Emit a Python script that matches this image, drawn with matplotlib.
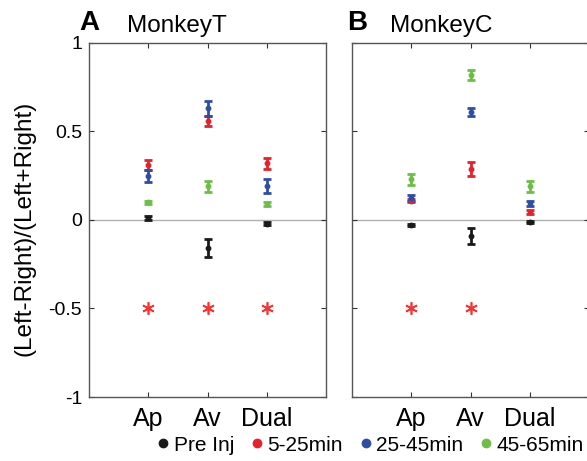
import matplotlib
matplotlib.use("Agg")
import matplotlib.pyplot as plt
from matplotlib.lines import Line2D
import numpy as np

plt.rcParams['font.family'] = ['Liberation Sans', 'DejaVu Sans']

categories = ["Ap", "Av", "Dual"]
series = ["Pre Inj", "5-25min", "25-45min", "45-65min"]
colors = ["#1a1a1a", "#e8202a", "#2c4ea6", "#6cbf45"]

# Monkey T
t_mean = {
    "Pre Inj":  [0.01, -0.16, -0.02],
    "5-25min":  [0.31, 0.56, 0.32],
    "25-45min": [0.25, 0.63, 0.19],
    "45-65min": [0.10, 0.19, 0.09],
}
t_err = {
    "Pre Inj":  [0.01, 0.05, 0.01],
    "5-25min":  [0.03, 0.03, 0.03],
    "25-45min": [0.035, 0.04, 0.04],
    "45-65min": [0.01, 0.03, 0.01],
}
# Monkey C
c_mean = {
    "Pre Inj":  [-0.03, -0.09, -0.01],
    "5-25min":  [0.11, 0.29, 0.045],
    "25-45min": [0.125, 0.61, 0.095],
    "45-65min": [0.23, 0.82, 0.19],
}
c_err = {
    "Pre Inj":  [0.005, 0.045, 0.005],
    "5-25min":  [0.01, 0.04, 0.01],
    "25-45min": [0.015, 0.02, 0.015],
    "45-65min": [0.03, 0.03, 0.03],
}
sig_T = [1, 2, 3]
sig_C = [1, 2]
sig_level = -0.5

fig = plt.figure(figsize=(5.87, 4.61), dpi=100)
axA = fig.add_axes([89/587, 64/461, 237/587, 354/461])
axB = fig.add_axes([352/587, 64/461, 237/587, 354/461])

xpos = np.arange(1, len(categories) + 1)

def draw(ax, means, errs, sig, title, letter, letter_x, ylabels):
    ax.axhline(0, color="#b0b0b0", lw=1.0, zorder=0)
    for s, col in zip(series, colors):
        ax.errorbar(xpos, means[s], yerr=errs[s], fmt='o', color=col,
                    ms=3.2, elinewidth=2.0, capsize=2.8, capthick=2.0, zorder=3)
    ax.plot(sig, [sig_level] * len(sig), linestyle='none', marker=(6, 2, 0),
            ms=9, mew=1.2, color="#ff3030")
    ax.set_xlim(0, 4)
    ax.set_ylim(-1, 1)
    ax.set_xticks(xpos)
    ax.set_xticklabels(categories, fontsize=18)
    ax.set_yticks([-1, -0.5, 0, 0.5, 1])
    if ylabels:
        ax.set_yticklabels(["-1", "-0.5", "0", "0.5", "1"], fontsize=14)
    else:
        ax.set_yticklabels([])
    ax.tick_params(direction='in', length=3.5, top=True, right=True,
                   width=0.8, color="#333333", pad=5)
    ax.tick_params(axis='x', pad=7)
    for sp in ax.spines.values():
        sp.set_color("#555555")
        sp.set_linewidth(1.0)
    ax.text(0.16, 1.031, title, transform=ax.transAxes, fontsize=17.5,
            ha='left', va='baseline')
    ax.text(letter_x, 1.037, letter, transform=ax.transAxes,
            fontsize=20, fontweight='bold', ha='left', va='baseline')

draw(axA, t_mean, t_err, sig_T, "MonkeyT", "A", -0.042, True)
draw(axB, c_mean, c_err, sig_C, "MonkeyC", "B", -0.021, False)
fig.text(25/587, 1 - 228/461, "(Left-Right)/(Left+Right)", rotation=90,
         ha='center', va='center', fontsize=17.5)

handles = [Line2D([], [], marker='o', linestyle='none', color=c, ms=6) for c in colors]
fig.legend(handles, series, loc='center left', bbox_to_anchor=(157/587, 16/461),
           ncol=4, frameon=False, fontsize=15, handletextpad=0.2,
           columnspacing=0.8, handlelength=0.6, borderpad=0, borderaxespad=0)

fig.savefig("out.png", dpi=100)
